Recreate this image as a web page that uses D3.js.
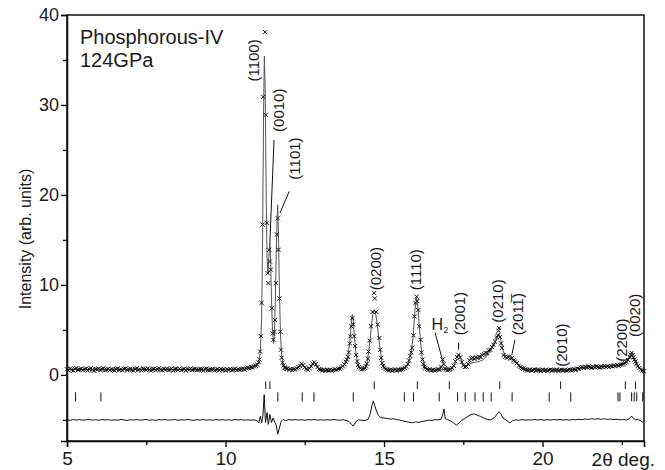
<!DOCTYPE html>
<html>
<head>
<meta charset="utf-8">
<script src="https://cdn.jsdelivr.net/npm/d3@7"></script>
<style>
  body { margin: 0; background: #fff; }
  text { font-family: 'Liberation Sans', Arial, sans-serif; fill: #1a1a1a; }
</style>
</head>
<body>
<script>
width = 665;
height = 470;

// observed intensities [2theta, I]
const observed = [
  [5.00,.62],[5.05,.50],[5.10,.71],[5.15,.58],[5.20,.47],[5.25,.66],[5.30,.74],[5.35,.55],
  [5.40,.60],[5.45,.69],[5.50,.52],[5.55,.64],[5.60,.70],[5.65,.49],[5.70,.63],[5.75,.75],
  [5.80,.57],[5.85,.46],[5.90,.65],[5.95,.61],[6.00,.70],[6.05,.54],[6.10,.62],[6.15,.73],
  [6.20,.50],[6.25,.59],[6.30,.68],[6.35,.53],[6.40,.66],[6.45,.58],[6.50,.48],[6.55,.64],
  [6.60,.72],[6.65,.55],[6.70,.61],[6.75,.51],[6.80,.67],[6.85,.70],[6.90,.52],[6.95,.60],
  [7.00,.68],[7.05,.57],[7.10,.49],[7.15,.65],[7.20,.73],[7.25,.56],[7.30,.61],[7.35,.50],
  [7.40,.69],[7.45,.63],[7.50,.55],[7.55,.71],[7.60,.58],[7.65,.47],[7.70,.64],[7.75,.67],
  [7.80,.52],[7.85,.62],[7.90,.74],[7.95,.57],[8.00,.50],[8.05,.66],[8.10,.60],[8.15,.69],
  [8.20,.53],[8.25,.58],[8.30,.72],[8.35,.49],[8.40,.63],[8.45,.65],[8.50,.56],[8.55,.70],
  [8.60,.51],[8.65,.61],[8.70,.67],[8.75,.48],[8.80,.64],[8.85,.59],[8.90,.71],[8.95,.54],
  [9.00,.60],[9.05,.66],[9.10,.50],[9.15,.57],[9.20,.68],[9.25,.62],[9.30,.47],[9.35,.63],
  [9.40,.70],[9.45,.55],[9.50,.52],[9.55,.61],[9.60,.66],[9.65,.49],[9.70,.58],[9.75,.64],
  [9.80,.51],[9.85,.67],[9.90,.56],[9.95,.60],[10.00,.48],[10.05,.62],[10.10,.55],[10.15,.65],
  [10.20,.50],[10.25,.59],[10.30,.68],[10.35,.53],[10.40,.61],[10.45,.57],[10.50,.64],[10.55,.70],
  [10.60,.58],[10.65,.72],[10.70,.80],[10.75,.76],[10.80,.88],[10.85,.84],[10.90,.95],[10.95,1.02],
  [11.00,1.15],[11.05,1.4],[11.07,1.7],[11.09,2.6],[11.12,4.3],[11.14,8.0],[11.17,16.7],[11.19,30.9],
  [11.25,38.1],[11.27,28.9],[11.30,16.9],[11.33,11.3],[11.35,10.2],[11.38,13.9],[11.40,12.6],[11.43,11.7],
  [11.46,7.4],[11.49,4.6],[11.51,3.9],[11.54,4.8],[11.56,6.1],[11.59,10.2],[11.62,15.6],[11.65,17.4],
  [11.67,13.9],[11.70,8.5],[11.73,4.8],[11.75,2.8],[11.77,1.9],[11.80,1.35],[11.83,1.05],[11.86,.85],
  [11.89,.78],[11.92,.66],[11.95,.70],[12.00,.58],[12.05,.64],[12.10,.52],[12.15,.62],[12.20,.60],
  [12.25,.72],[12.30,.86],[12.35,1.02],[12.40,1.22],[12.45,1.08],[12.50,.82],[12.55,.66],[12.60,.56],
  [12.65,.72],[12.70,.95],[12.75,1.22],[12.80,1.40],[12.85,1.18],[12.90,.86],[12.95,.64],[13.00,.58],
  [13.05,.50],[13.10,.56],[13.15,.47],[13.20,.55],[13.25,.50],[13.30,.58],[13.35,.46],[13.40,.54],
  [13.45,.60],[13.50,.57],[13.55,.66],[13.60,.70],[13.65,.80],[13.70,.96],[13.75,1.18],[13.80,1.45],
  [13.83,1.70],[13.86,2.0],[13.89,2.5],[13.92,3.5],[13.94,4.3],[13.97,5.4],[14.00,6.3],[14.03,5.6],
  [14.06,4.3],[14.09,3.2],[14.12,2.2],[14.15,1.5],[14.18,1.1],[14.21,.86],[14.25,.72],[14.30,.62],
  [14.35,.68],[14.40,.78],[14.43,.95],[14.46,1.25],[14.49,1.8],[14.51,2.6],[14.55,3.8],[14.59,5.4],
  [14.64,7.0],[14.69,9.1],[14.71,8.5],[14.75,7.0],[14.80,5.6],[14.85,4.1],[14.88,2.8],[14.91,1.9],
  [14.94,1.3],[14.97,.98],[15.00,.80],[15.05,.66],[15.10,.58],[15.15,.50],[15.20,.56],[15.25,.46],
  [15.30,.54],[15.35,.60],[15.40,.49],[15.45,.57],[15.50,.52],[15.55,.62],[15.60,.68],[15.65,.78],
  [15.70,.92],[15.75,1.2],[15.79,1.6],[15.83,2.1],[15.86,2.5],[15.89,3.0],[15.93,4.4],[15.96,6.5],
  [15.99,8.0],[16.03,8.7],[16.05,8.2],[16.08,7.2],[16.11,5.4],[16.15,3.9],[16.18,2.5],[16.21,1.7],
  [16.24,1.2],[16.27,.92],[16.30,.76],[16.35,.64],[16.40,.55],[16.45,.60],[16.50,.50],[16.55,.57],
  [16.60,.48],[16.65,.55],[16.70,.62],[16.75,.58],[16.80,.90],[16.85,1.70],[16.88,1.20],[16.92,.72],
  [16.95,.60],[17.00,.52],[17.05,.58],[17.10,.62],[17.15,.76],[17.20,1.02],[17.25,1.50],[17.30,2.00],
  [17.35,2.22],[17.40,1.92],[17.45,1.42],[17.50,1.05],[17.55,.86],[17.60,.92],[17.65,1.20],[17.70,1.62],
  [17.75,1.82],[17.80,1.90],[17.85,1.78],[17.90,1.95],[17.95,1.88],[18.00,2.02],[18.05,1.96],[18.10,2.20],
  [18.15,2.30],[18.20,2.45],[18.25,2.40],[18.30,2.72],[18.35,2.80],[18.40,3.10],[18.45,3.35],[18.50,3.70],
  [18.55,4.20],[18.59,4.40],[18.61,4.90],[18.63,5.20],[18.66,4.20],[18.69,3.50],[18.72,3.00],[18.77,2.20],
  [18.82,2.02],[18.87,1.92],[18.92,1.95],[18.97,1.82],[19.03,1.86],[19.08,1.60],[19.13,1.48],[19.19,1.30],
  [19.25,1.02],[19.30,.86],[19.35,.74],[19.40,.70],[19.45,.60],[19.50,.56],[19.55,.50],[19.60,.58],
  [19.65,.46],[19.70,.55],[19.75,.60],[19.80,.48],[19.85,.56],[19.90,.52],[19.95,.44],[20.00,.57],
  [20.05,.50],[20.10,.55],[20.15,.45],[20.20,.53],[20.25,.58],[20.30,.47],[20.35,.54],[20.40,.50],
  [20.45,.56],[20.50,.44],[20.55,.52],[20.60,.57],[20.65,.49],[20.70,.55],[20.75,.46],[20.80,.53],
  [20.85,.58],[20.90,.50],[20.95,.56],[21.00,.62],[21.05,.57],[21.10,.70],[21.15,.66],[21.20,.80],
  [21.25,.86],[21.30,.78],[21.35,.90],[21.40,.84],[21.45,.92],[21.50,.86],[21.55,.80],[21.60,.90],
  [21.65,.84],[21.70,.95],[21.75,.88],[21.80,.82],[21.85,.92],[21.90,.86],[21.95,.98],[22.00,.90],
  [22.05,.95],[22.10,.88],[22.15,1.00],[22.20,.94],[22.25,1.05],[22.30,.98],[22.35,1.08],[22.40,1.02],
  [22.45,1.12],[22.50,1.16],[22.55,1.22],[22.60,1.30],[22.65,1.42],[22.70,1.65],[22.75,2.00],[22.78,2.25],
  [22.81,2.45],[22.84,2.20],[22.87,1.95],[22.90,1.70],[22.93,1.48],[22.96,1.22],[23.00,.98],[23.05,.76],
  [23.10,.58],[23.15,.48],[23.20,.40]
];

// calculated profile [2theta, I]
const calculated = [
  [5.0,.6],[6.0,.61],[7.0,.6],[8.0,.6],[9.0,.59],[10.0,.58],[10.5,.62],[10.8,.8],
  [11.0,1.1],[11.05,1.4],[11.10,2.6],[11.14,6.5],[11.17,15],[11.20,29],[11.225,35.4],[11.25,32],
  [11.28,21],[11.31,13],[11.34,11.2],[11.37,13.2],[11.40,14.8],[11.42,13],[11.45,8.5],[11.48,5.2],
  [11.51,3.5],[11.54,4.3],[11.57,8],[11.60,13.5],[11.625,17],[11.645,18.9],[11.67,15.5],[11.70,9.5],
  [11.73,5],[11.76,2.6],[11.80,1.4],[11.85,.9],[11.90,.72],[12.0,.62],[12.2,.62],[12.3,.82],
  [12.35,1.0],[12.40,1.15],[12.45,1.02],[12.5,.8],[12.6,.62],[12.7,.92],[12.75,1.2],[12.80,1.35],
  [12.85,1.15],[12.9,.85],[13.0,.6],[13.3,.53],[13.6,.66],[13.75,1.1],[13.85,1.9],[13.92,3.6],
  [13.97,5.8],[14.0,6.7],[14.03,6.0],[14.06,4.5],[14.12,2.2],[14.2,.92],[14.3,.64],[14.4,.74],
  [14.46,1.3],[14.5,2.2],[14.55,3.6],[14.6,5.4],[14.65,6.8],[14.69,7.2],[14.73,6.9],[14.78,5.8],
  [14.83,4.2],[14.88,2.8],[14.94,1.4],[15.0,.82],[15.1,.6],[15.5,.55],[15.65,.78],[15.75,1.2],
  [15.85,2.3],[15.92,4.2],[15.97,7.0],[16.02,8.6],[16.06,8.0],[16.1,6.0],[16.15,3.8],[16.2,2.0],
  [16.3,.78],[16.5,.56],[16.9,.58],[17.1,.64],[17.2,1.0],[17.3,1.85],[17.36,2.3],[17.42,1.85],
  [17.5,1.1],[17.6,.98],[17.7,1.2],[17.8,1.35],[17.9,1.42],[18.0,1.5],[18.1,1.62],[18.2,1.95],
  [18.3,2.4],[18.4,2.9],[18.5,3.5],[18.57,4.3],[18.63,4.6],[18.69,3.8],[18.75,2.7],[18.82,2.2],
  [18.9,2.1],[18.97,2.2],[19.05,1.9],[19.2,1.3],[19.35,.8],[19.5,.6],[20.0,.53],[21.0,.58],
  [21.2,.78],[21.5,.88],[22.0,.94],[22.4,1.08],[22.6,1.32],[22.72,1.8],[22.8,2.2],[22.86,2.0],
  [22.93,1.5],[23.0,1.0],[23.1,.6],[23.2,.42]
];

// difference curve (obs - calc, offset) [2theta, I]
const difference = [
  [5.0,-5.0],[5.1,-5.06],[5.2,-4.97],[5.3,-5.03],[5.4,-4.96],[5.5,-5.05],[5.6,-5.0],[5.7,-4.94],
  [5.8,-5.04],[5.9,-4.98],[6.0,-5.06],[6.1,-4.95],[6.2,-5.02],[6.3,-4.97],[6.4,-5.05],[6.5,-4.99],
  [6.6,-5.04],[6.7,-4.95],[6.8,-5.02],[6.9,-5.07],[7.0,-4.98],[7.1,-5.03],[7.2,-4.96],[7.3,-5.04],
  [7.4,-5.0],[7.5,-4.95],[7.6,-5.05],[7.7,-4.99],[7.8,-5.06],[7.9,-4.97],[8.0,-5.02],[8.1,-4.95],
  [8.2,-5.04],[8.3,-5.0],[8.4,-4.96],[8.5,-5.05],[8.6,-4.98],[8.7,-5.03],[8.8,-4.94],[8.9,-5.02],
  [9.0,-5.06],[9.1,-4.97],[9.2,-5.03],[9.3,-4.95],[9.4,-5.04],[9.5,-4.98],[9.6,-5.06],[9.7,-4.96],
  [9.8,-5.03],[9.9,-4.97],[10.0,-5.05],[10.1,-4.98],[10.2,-5.04],[10.3,-4.95],[10.4,-5.02],[10.5,-4.97],
  [10.6,-5.05],[10.7,-4.98],[10.8,-5.04],[10.9,-5.0],[11.0,-5.1],[11.05,-5.35],[11.1,-4.6],[11.14,-5.3],
  [11.18,-4.5],[11.22,-2.2],[11.26,-5.3],[11.31,-4.2],[11.35,-5.5],[11.4,-4.4],[11.45,-5.3],[11.5,-4.8],
  [11.56,-5.3],[11.6,-5.6],[11.65,-6.6],[11.7,-5.9],[11.75,-5.2],[11.82,-4.95],[11.9,-5.08],[12.0,-4.97],
  [12.1,-5.03],[12.2,-4.96],[12.3,-5.04],[12.4,-4.98],[12.5,-5.06],[12.6,-4.97],[12.7,-5.02],[12.8,-4.95],
  [12.9,-5.04],[13.0,-4.98],[13.1,-5.05],[13.2,-4.97],[13.3,-5.03],[13.4,-4.96],[13.5,-5.0],[13.6,-5.06],
  [13.7,-4.98],[13.8,-5.05],[13.9,-5.2],[14.03,-5.7],[14.12,-5.15],[14.2,-5.0],[14.3,-5.04],[14.4,-5.08],
  [14.5,-4.9],[14.56,-4.4],[14.62,-3.4],[14.66,-2.9],[14.7,-3.3],[14.75,-3.9],[14.82,-4.5],[14.9,-4.75],
  [15.0,-4.8],[15.1,-4.85],[15.2,-4.92],[15.3,-4.88],[15.4,-4.97],[15.5,-5.02],[15.6,-5.12],[15.7,-5.2],
  [15.8,-5.28],[15.9,-5.32],[16.0,-5.22],[16.1,-5.28],[16.2,-5.18],[16.3,-5.12],[16.4,-5.04],[16.5,-5.08],
  [16.6,-4.98],[16.7,-5.0],[16.8,-4.92],[16.86,-4.3],[16.89,-3.8],[16.93,-4.85],[17.0,-4.98],[17.1,-5.1],
  [17.2,-5.35],[17.29,-5.6],[17.36,-5.35],[17.45,-5.05],[17.55,-4.85],[17.65,-4.6],[17.75,-4.4],[17.85,-4.35],
  [17.95,-4.5],[18.05,-4.62],[18.15,-4.8],[18.25,-4.95],[18.35,-5.0],[18.45,-4.85],[18.55,-4.45],[18.62,-4.1],
  [18.68,-4.3],[18.75,-4.8],[18.82,-4.95],[18.9,-5.15],[18.97,-5.35],[19.05,-5.1],[19.15,-5.0],[19.25,-5.05],
  [19.35,-4.97],[19.45,-5.04],[19.55,-4.98],[19.65,-5.03],[19.75,-4.96],[19.85,-5.02],[19.95,-4.97],[20.05,-5.04],
  [20.15,-4.98],[20.25,-5.03],[20.35,-4.95],[20.45,-5.01],[20.55,-4.96],[20.65,-5.03],[20.75,-4.97],[20.85,-5.02],
  [20.95,-4.95],[21.05,-5.0],[21.15,-4.93],[21.25,-4.98],[21.35,-4.9],[21.45,-4.95],[21.55,-4.88],[21.65,-4.93],
  [21.75,-4.87],[21.85,-4.94],[21.95,-4.88],[22.05,-4.95],[22.15,-4.9],[22.25,-4.97],[22.35,-4.93],[22.45,-5.0],
  [22.55,-4.96],[22.65,-5.02],[22.72,-4.9],[22.78,-4.7],[22.82,-4.6],[22.87,-4.85],[22.93,-5.0],[23.0,-4.96],
  [23.08,-5.05],[23.15,-5.25],[23.2,-5.1]
];

// reflection markers, two rows
const reflectionsUpper = [11.27, 11.40, 14.69, 16.05, 17.06, 18.65, 20.57, 22.61, 22.93];
const reflectionsLower = [5.27, 6.07, 11.65, 12.42, 12.79, 14.03, 15.64, 15.93, 16.74, 17.32, 17.56,
  17.87, 18.13, 18.38, 19.04, 20.21, 20.89, 22.38, 22.44, 22.81, 22.89, 22.97, 23.16];

const xMajorTicks = [5, 10, 15, 20];
const xMinorTicks = [7.5, 12.5, 17.5, 22.5];
const yMajorTicks = [0, 10, 20, 30, 40];
const yMinorTicks = [-5, 5, 15, 25, 35];

// hkl labels: text, 2theta and intensity where the label starts
const peakLabels = [
  { text: '(1100)', tt: 10.88, I: 32.6 },
  { text: '(0010)', tt: 11.67, I: 27.0 },
  { text: '(1101)', tt: 12.19, I: 21.7 },
  { text: '(0200)', tt: 14.75, I: 9.4 },
  { text: '(1110)', tt: 16.01, I: 9.4 },
  { text: '(2001)', tt: 17.40, I: 4.4 },
  { text: '(0210)', tt: 18.60, I: 5.8 },
  { text: '(2011\u0305)', tt: 19.23, I: 4.4 },
  { text: '(2010)', tt: 20.60, I: 0.9 },
  { text: '(2200)', tt: 22.50, I: 1.45 },
  { text: '(0020)', tt: 22.92, I: 4.2 }
];

const leaders = [
  [[11.53, 26.1], [11.40, 14.8]],
  [[12.01, 20.4], [11.72, 18.0]],
  [[16.61, 4.7], [16.87, 1.3]],
  [[17.35, 3.55], [17.35, 2.8]],
  [[19.13, 3.9], [19.03, 2.2]]
];

function main() {
  const margin = { top: 15, right: 21, bottom: 29, left: 67 };
  const svg = d3.select('body').append('svg').attr('width', width).attr('height', height);

  const x = d3.scaleLinear().domain([5, 23.2]).range([margin.left, width - margin.right]);
  const y = d3.scaleLinear().domain([-7.35, 40]).range([height - margin.bottom, margin.top]);

  const plot = svg.append('g');

  // reflection ticks
  drawReflections(plot, x, y, reflectionsUpper, -1.15, 0.42);
  drawReflections(plot, x, y, reflectionsLower, -2.45, 0.5);

  const line = d3.line().x(d => x(d[0])).y(d => y(d[1]));

  plot.append('path')
    .datum(difference)
    .attr('d', line)
    .attr('fill', 'none')
    .attr('stroke', '#111')
    .attr('stroke-width', 1);

  plot.append('path')
    .datum(calculated)
    .attr('d', line)
    .attr('fill', 'none')
    .attr('stroke', '#555')
    .attr('stroke-width', 1);

  // observed points as small crosses
  const s = 2.1;
  plot.append('g')
    .selectAll('path')
    .data(observed)
    .enter()
    .append('path')
    .attr('d', d => {
      const cx = x(d[0]), cy = y(d[1]);
      return `M${cx - s},${cy - s}L${cx + s},${cy + s}M${cx - s},${cy + s}L${cx + s},${cy - s}`;
    })
    .attr('stroke', '#111')
    .attr('stroke-width', 1);

  createAxes(svg, x, y, margin);
  createLabels(svg, x, y);
}

function drawReflections(g, x, y, positions, center, half) {
  g.append('g')
    .selectAll('line')
    .data(positions)
    .enter()
    .append('line')
    .attr('x1', d => x(d))
    .attr('x2', d => x(d))
    .attr('y1', y(center + half))
    .attr('y2', y(center - half))
    .attr('stroke', '#111')
    .attr('stroke-width', 1);
}

function createAxes(svg, x, y, margin) {
  const bottom = height - margin.bottom;

  const xAxis = svg.append('g')
    .attr('transform', `translate(0,${bottom})`)
    .call(d3.axisBottom(x).tickValues(xMajorTicks).tickSize(6).tickPadding(5).tickFormat(d3.format('d')));
  xAxis.selectAll('text').style('font-size', '19px');

  svg.append('g')
    .attr('transform', `translate(0,${bottom})`)
    .call(d3.axisBottom(x).tickValues(xMinorTicks).tickSize(4).tickFormat(''))
    .select('.domain').remove();

  const yAxis = svg.append('g')
    .attr('transform', `translate(${margin.left},0)`)
    .call(d3.axisLeft(y).tickValues(yMajorTicks).tickSize(6).tickPadding(2));
  yAxis.selectAll('text').style('font-size', '18px');

  svg.append('g')
    .attr('transform', `translate(${margin.left},0)`)
    .call(d3.axisLeft(y).tickValues(yMinorTicks).tickSize(4).tickFormat(''))
    .select('.domain').remove();

  svg.selectAll('.domain').attr('stroke-width', 1.5);
  svg.selectAll('.tick line').attr('stroke-width', 1.3);
  svg.selectAll('.tick text').attr('fill', '#1a1a1a').style('font-family', "'Liberation Sans', Arial, sans-serif");

  // frame on top and right
  svg.append('rect')
    .attr('x', margin.left)
    .attr('y', margin.top)
    .attr('width', width - margin.right - margin.left)
    .attr('height', bottom - margin.top)
    .attr('fill', 'none')
    .attr('stroke', '#111')
    .attr('stroke-width', 1.5);

  svg.append('text')
    .attr('x', 655)
    .attr('y', bottom + 25)
    .attr('text-anchor', 'end')
    .style('font-size', '19px')
    .text('2\u03b8 deg.');

  svg.append('text')
    .attr('transform', `translate(31,${(margin.top + bottom) / 2 + 11}) rotate(-90)`)
    .attr('text-anchor', 'middle')
    .style('font-size', '16px')
    .text('Intensity (arb. units)');
}

function createLabels(svg, x, y) {
  svg.append('text').attr('x', 80).attr('y', 44).style('font-size', '20px').text('Phosphorous-IV');
  svg.append('text').attr('x', 80).attr('y', 67).style('font-size', '20px').text('124GPa');

  svg.append('g')
    .selectAll('text')
    .data(peakLabels)
    .enter()
    .append('text')
    .attr('transform', d => `translate(${x(d.tt)},${y(d.I)}) rotate(-90)`)
    .attr('dy', '0.35em')
    .style('font-size', '15px')
    .text(d => d.text);

  const h2 = svg.append('text')
    .attr('x', x(16.5))
    .attr('y', y(5.0))
    .style('font-size', '16px');
  h2.append('tspan').text('H');
  h2.append('tspan').attr('dy', 3).style('font-size', '9px').text('2');

  svg.append('g')
    .selectAll('line')
    .data(leaders)
    .enter()
    .append('line')
    .attr('x1', d => x(d[0][0]))
    .attr('y1', d => y(d[0][1]))
    .attr('x2', d => x(d[1][0]))
    .attr('y2', d => y(d[1][1]))
    .attr('stroke', '#111')
    .attr('stroke-width', 1);
}

main();
</script>
</body>
</html>
